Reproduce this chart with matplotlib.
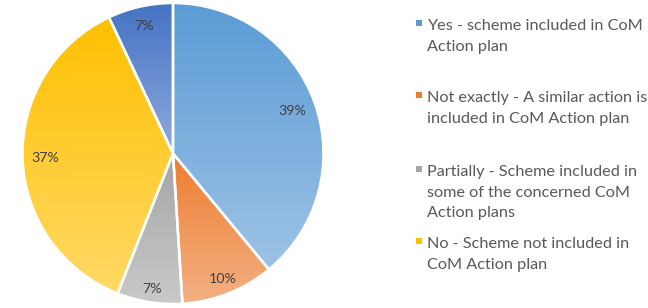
import numpy as np
import matplotlib
matplotlib.use("Agg")
import matplotlib.pyplot as plt
from matplotlib.colors import LinearSegmentedColormap

# data
labels = [
    "Yes - scheme included in CoM\nAction plan",
    "Not exactly - A similar action is\nincluded in CoM Action plan",
    "Partially - Scheme included in\nsome of the concerned CoM\nAction plans",
    "No - Scheme not included in\nCoM Action plan",
    "",  # last slice has no legend entry
]
shares = [39, 10, 7, 37, 7]
# gradient colours per slice (top, bottom)
top_colors = ["#5b9bd5", "#ed7d31", "#a5a5a5", "#ffc000", "#4472c4"]
bottom_colors = ["#9dc3e6", "#f4b183", "#c9c9c9", "#ffd966", "#8faadc"]
label_radius = [0.84, 0.90, 0.91, 0.85, 0.87]

plt.rcParams['font.family'] = ['Lato', 'DejaVu Sans']
text_color = "#404040"

fig = plt.figure(figsize=(6.48, 3.08), dpi=100)
W, H = 648, 308
cx, cy, r = 173, 153.5, 152
ax = fig.add_axes([(cx - r) / W, (H - cy - r) / H, 2 * r / W, 2 * r / H])

wedges, _ = ax.pie(shares, startangle=90, counterclock=False,
                   colors=top_colors,
                   wedgeprops=dict(edgecolor="white", linewidth=1.8))
ax.set_aspect("equal")
ax.axis("off")

# gradient fill clipped to each wedge
for w, c0, c1 in zip(wedges, top_colors, bottom_colors):
    verts = w.get_path().vertices
    x0, x1 = verts[:, 0].min(), verts[:, 0].max()
    y0, y1 = verts[:, 1].min(), verts[:, 1].max()
    cmap = LinearSegmentedColormap.from_list("g", [c0, c1])
    grad = np.linspace(0, 1, 256).reshape(-1, 1)
    im = ax.imshow(grad, cmap=cmap, extent=[x0, x1, y0, y1], origin="upper",
                   aspect="auto", zorder=w.get_zorder() + 0.1)
    im.set_clip_path(w)
    w.set_facecolor("none")
    w.set_zorder(w.get_zorder() + 0.2)

ax.set_xlim(-1.01, 1.01)
ax.set_ylim(-1.01, 1.01)

# percentage labels
for w, v, rr in zip(wedges, shares, label_radius):
    mid = np.deg2rad((w.theta1 + w.theta2) / 2)
    ax.text(rr * np.cos(mid), rr * np.sin(mid), f"{v}%", ha="center",
            va="center", fontsize=10.3, color=text_color, zorder=5)

# legend drawn as text entries, one line at a time (baselines in px)
legend_base = [30, 102, 176, 248]
line_gap = 20.7
for lab, c0, y in zip(labels[:4], top_colors, legend_base):
    fig.patches.append(plt.Rectangle((415.5 / W, 1 - (y - 4) / H), 6 / W, 6 / H,
                                     transform=fig.transFigure,
                                     facecolor=c0, edgecolor="none"))
    for i, line in enumerate(lab.split("\n")):
        fig.text(427 / W, 1 - (y + i * line_gap) / H, line, ha="left",
                 va="baseline", fontsize=11.7, color="#595959")

fig.savefig("out.png", dpi=100)
